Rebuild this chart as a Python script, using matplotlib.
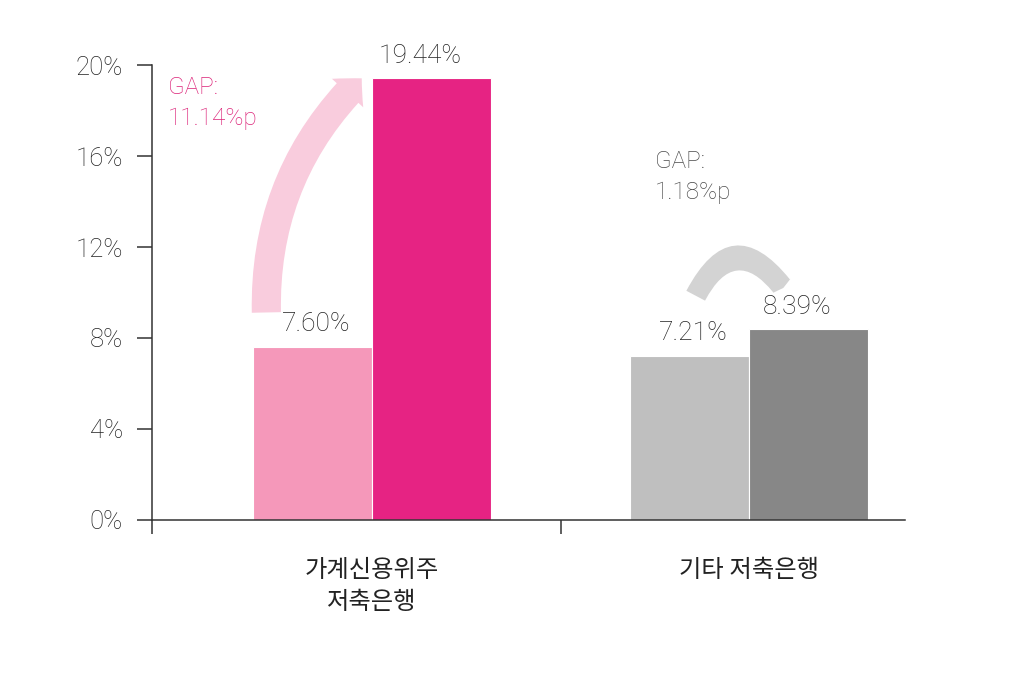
import matplotlib
matplotlib.use("Agg")
import matplotlib.pyplot as plt
from matplotlib.patches import FancyArrowPatch

plt.rcParams['font.family'] = ['Roboto', 'Noto Sans CJK KR', 'DejaVu Sans']
plt.rcParams['font.weight'] = 'light'

categories = ["가계신용위주\n저축은행", "기타 저축은행"]
before = [7.60, 7.21]
after = [19.44, 8.39]
gaps = ["GAP:\n11.14%p", "GAP:\n1.18%p"]
yticks = [0, 4, 8, 12, 16, 20]

light = ["#F598BA", "#BFBFBF"]
dark = ["#E62383", "#878787"]
arrow_col = ["#F9CCDD", "#D3D3D3"]
gap_col = ["#DC2479", "#4A4A4A"]

fig = plt.figure(figsize=(10.24, 6.83), dpi=100)
ax = fig.add_axes([0.1484, 0.2387, 0.7356, 0.6661])

centers = [1, 2]
w = 0.316
xmin, xmax = 0.4164, 2.414

for i, c in enumerate(centers):
    ax.bar(c - w / 2, before[i], width=w, color=light[i], edgecolor="white", linewidth=0.8)
    ax.bar(c + w / 2, after[i], width=w, color=dark[i], edgecolor="white", linewidth=0.8)
    ax.text(c - w / 2 + 0.01, before[i] + 0.5, f"{before[i]:.2f}%", ha="center", va="bottom",
            fontsize=19, color="#222222")
    ax.text(c + w / 2 - 0.03, after[i] + 0.45, f"{after[i]:.2f}%", ha="center", va="bottom",
            fontsize=19, color="#222222")

# curved gap arrows
a1 = FancyArrowPatch((0.72, 9.0), (0.978, 19.5),
                     connectionstyle="arc3,rad=-0.22",
                     arrowstyle="simple,head_length=0.7,head_width=1.45,tail_width=1.0",
                     mutation_scale=21, color=arrow_col[0], lw=0)
ax.add_patch(a1)
a2 = FancyArrowPatch((1.855, 9.75), (2.095, 10.1),
                     connectionstyle="arc3,rad=-0.8",
                     arrowstyle="simple,head_length=0.1,head_width=0.85,tail_width=0.8",
                     mutation_scale=19, color=arrow_col[1], lw=0)
ax.add_patch(a2)

ax.text(0.459, 19.5, gaps[0], ha="left", va="top", fontsize=17.5, color=gap_col[0], linespacing=1.4)
ax.text(1.751, 16.25, gaps[1], ha="left", va="top", fontsize=17.5, color=gap_col[1], linespacing=1.4)

ax.set_xlim(xmin, xmax)
ax.set_ylim(0, 20)
ax.set_yticks(yticks)
ax.set_yticklabels([f"{t}%" for t in yticks], fontsize=18.5, color="#222222")

ax.set_xticks([xmin, 1.5])
ax.set_xticklabels(["", ""])
ax.set_xticks(centers, minor=True)
ax.set_xticklabels(categories, minor=True, fontsize=17.5, color="#222222", linespacing=1.5)
ax.tick_params(axis="x", which="major", direction="out", length=10, width=1.1, color="#333333")
ax.tick_params(axis="x", which="minor", length=0, pad=28)
ax.tick_params(axis="y", direction="out", length=11, width=1.1, color="#333333", pad=10)

for s in ["top", "right"]:
    ax.spines[s].set_visible(False)
for s in ["left", "bottom"]:
    ax.spines[s].set_color("#333333")
    ax.spines[s].set_linewidth(1.1)

fig.savefig("out.png", dpi=100)
